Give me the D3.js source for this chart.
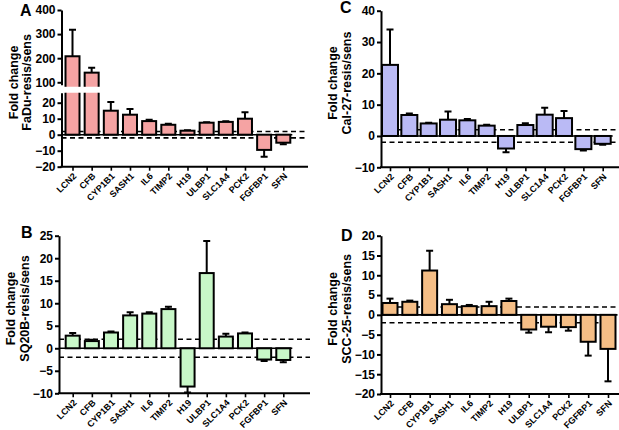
<!DOCTYPE html>
<html>
<head>
<meta charset="utf-8">
<script src="https://cdn.jsdelivr.net/npm/d3@7"></script>
<style>
  body { margin: 0; background: #fff; }
  svg { font-family: "Liberation Sans", Arial, sans-serif; font-weight: bold; }
</style>
</head>
<body>
<svg width="619" height="430"></svg>
<script>
// gene order (same in every panel)
const genes = ['LCN2', 'CFB', 'CYP1B1', 'SASH1', 'IL6', 'TIMP2', 'H19', 'ULBP1', 'SLC1A4', 'PCK2', 'FGFBP1', 'SFN'];

// A - FaDu
const faduValues = [208, 140, 15, 12.5, 8.5, 6.2, 2.5, 7.5, 8, 10, -9.5, -5];
const faduErrors = [110, 20, 5.5, 3.5, 0.8, 0.6, 0.3, 0.3, 0.4, 4, 4.3, 1];
// B - SQ20B
const sq20bValues = [2.8, 1.6, 3.5, 7.3, 7.7, 8.7, -8.5, 16.7, 2.6, 3.3, -2.5, -2.6];
const sq20bErrors = [0.6, 0.3, 0.2, 0.7, 0.3, 0.5, 1.3, 7.1, 0.6, 0.2, 0.3, 0.5];
// C - Cal-27
const cal27Values = [22.7, 6.7, 4, 5.2, 5, 3.3, -4, 3.5, 6.8, 5.7, -4.2, -2.5];
const cal27Errors = [11.3, 0.5, 0.2, 2.6, 0.4, 0.3, 1.2, 0.6, 2.2, 2.3, 0.4, 0.3];
// D - SCC-25
const scc25Values = [3, 3.3, 11.2, 2.7, 2.2, 2.2, 3.5, -3.7, -3, -3.1, -6.8, -8.6];
const scc25Errors = [1.1, 0.3, 5, 1.1, 0.3, 1.1, 0.6, 0.8, 1.4, 0.9, 3.5, 8.2];

const threshold = 2;

const panels = [
    { letter: 'A', cell: 'FaDu-resis/sens', values: faduValues, errors: faduErrors, color: '#f5a3a3',
      axisX: 61.5, right: 308, first: 72.5, last: 283.3, bw: 14, letterPos: [20, 16],
      segments: [
          { domain: [90, 400], range: [84.7, 10], ticks: [100, 200, 300, 400] },
          { domain: [-20, 26.25], range: [166.7, 92.7], ticks: [-20, -10, 0, 10, 20] }
      ] },
    { letter: 'C', cell: 'Cal-27-resis/sens', values: cal27Values, errors: cal27Errors, color: '#babaf5',
      axisX: 381, right: 619, first: 390, last: 602.7, bw: 16, letterPos: [340, 13],
      segments: [
          { domain: [-10, 40], range: [167.3, 10.7], ticks: [-10, 0, 10, 20, 30, 40] }
      ] },
    { letter: 'B', cell: 'SQ20B-resis/sens', values: sq20bValues, errors: sq20bErrors, color: '#c8f7c8',
      axisX: 59, right: 310, first: 72.7, last: 283.3, bw: 14, letterPos: [21, 238],
      segments: [
          { domain: [-10, 25], range: [393.3, 235.7], ticks: [-10, -5, 0, 5, 10, 15, 20, 25] }
      ] },
    { letter: 'D', cell: 'SCC-25-resis/sens', values: scc25Values, errors: scc25Errors, color: '#f5be86',
      axisX: 381, right: 619, first: 390, last: 608, bw: 15, letterPos: [341, 241],
      segments: [
          { domain: [-20, 20], range: [394, 235.7], ticks: [-20, -15, -10, -5, 0, 5, 10, 15, 20] }
      ] }
];

const svg = d3.select('svg');

panels.forEach((p, pi) => {
    const g = svg.append('g');
    const x = d3.scalePoint().domain(genes).range([p.first, p.last]);
    const rows = genes.map((gene, i) => ({ gene: gene, value: p.values[i], err: p.errors[i] }));
    const top = d3.min(p.segments, s => s.range[1]);
    const bottom = d3.max(p.segments, s => s.range[0]);

    p.segments.forEach((s, si) => {
        const y = d3.scaleLinear().domain(s.domain).range(s.range);
        const clipId = 'clip' + pi + '_' + si;
        // only the topmost segment gets room above for caps; broken parts are cut flat
        const margin = s.range[1] === top ? 6 : 0;
        g.append('clipPath').attr('id', clipId)
            .append('rect')
            .attr('x', p.axisX)
            .attr('y', s.range[1] - margin)
            .attr('width', p.right - p.axisX)
            .attr('height', s.range[0] - s.range[1] + margin + 2);
        const sg = g.append('g').attr('clip-path', 'url(#' + clipId + ')');

        // threshold lines at +/-2
        [threshold, -threshold].forEach(t => {
            if (t < s.domain[0] || t > s.domain[1]) return;
            sg.append('line')
                .attr('x1', p.axisX).attr('x2', p.right)
                .attr('y1', y(t)).attr('y2', y(t))
                .attr('stroke', '#000')
                .attr('stroke-width', 1.6)
                .attr('stroke-dasharray', '5,3.5');
        });
        if (s.domain[0] <= 0 && s.domain[1] >= 0) {
            sg.append('line')
                .attr('x1', p.axisX).attr('x2', p.last + p.bw / 2 + 2)
                .attr('y1', y(0)).attr('y2', y(0))
                .attr('stroke', '#000')
                .attr('stroke-width', 1.6);
        }

        // error bars (away from zero)
        const ends = rows.map(d => d.value + Math.sign(d.value) * d.err);
        sg.append('g').selectAll('line')
            .data(rows)
            .enter()
            .append('line')
            .attr('x1', d => x(d.gene)).attr('x2', d => x(d.gene))
            .attr('y1', d => y(d.value))
            .attr('y2', (d, i) => y(ends[i]))
            .attr('stroke', '#000').attr('stroke-width', 2);
        sg.append('g').selectAll('line')
            .data(rows)
            .enter()
            .append('line')
            .attr('x1', d => x(d.gene) - 3.5).attr('x2', d => x(d.gene) + 3.5)
            .attr('y1', (d, i) => y(ends[i])).attr('y2', (d, i) => y(ends[i]))
            .attr('stroke', '#000').attr('stroke-width', 2);

        // bars
        sg.append('g').selectAll('rect')
            .data(rows)
            .enter()
            .append('rect')
            .attr('x', d => x(d.gene) - p.bw / 2)
            .attr('width', p.bw)
            .attr('y', d => Math.min(y(d.value), y(0)))
            .attr('height', d => Math.abs(y(d.value) - y(0)))
            .attr('fill', p.color)
            .attr('stroke', '#000')
            .attr('stroke-width', 2);

        // y axis
        const ax = g.append('g')
            .attr('transform', 'translate(' + p.axisX + ',0)')
            .call(d3.axisLeft(y).tickValues(s.ticks).tickSize(4).tickSizeOuter(0).tickPadding(2));
        ax.select('.domain').attr('stroke-width', 2);
        ax.selectAll('.tick line').attr('stroke-width', 2);
        ax.selectAll('.tick text')
            .attr('font-size', 12)
            .attr('font-family', '"Liberation Sans", Arial, sans-serif')
            .attr('font-weight', 'bold')
            .attr('fill', '#000');
    });

    // bottom axis
    const xa = g.append('g')
        .attr('transform', 'translate(0,' + bottom + ')')
        .call(d3.axisBottom(x).tickSize(4).tickSizeOuter(0));
    xa.select('.domain').remove();
    xa.selectAll('.tick line').attr('stroke-width', 1.6);
    xa.append('line')
        .attr('x1', p.axisX - 1).attr('x2', p.right)
        .attr('stroke', '#000').attr('stroke-width', 2);
    xa.selectAll('.tick text')
        .attr('font-size', 9)
        .attr('font-family', '"Liberation Sans", Arial, sans-serif')
        .attr('font-weight', 'bold')
        .attr('fill', '#000')
        .attr('text-anchor', 'end')
        .attr('y', 0).attr('dy', 0)
        .attr('transform', 'translate(4,10) rotate(-45)');

    // y title
    const cy = (top + bottom) / 2 - 6;
    const title = g.append('text')
        .attr('transform', 'translate(' + (p.axisX - 44) + ',' + cy + ') rotate(-90)')
        .attr('text-anchor', 'middle')
        .attr('font-size', 12.5);
    title.append('tspan').attr('x', 0).attr('y', 0).text('Fold change');
    title.append('tspan').attr('x', 0).attr('y', 13.5).text(p.cell);

    g.append('text')
        .attr('x', p.letterPos[0]).attr('y', p.letterPos[1])
        .attr('font-size', 16)
        .text(p.letter);
});
</script>
</body>
</html>
